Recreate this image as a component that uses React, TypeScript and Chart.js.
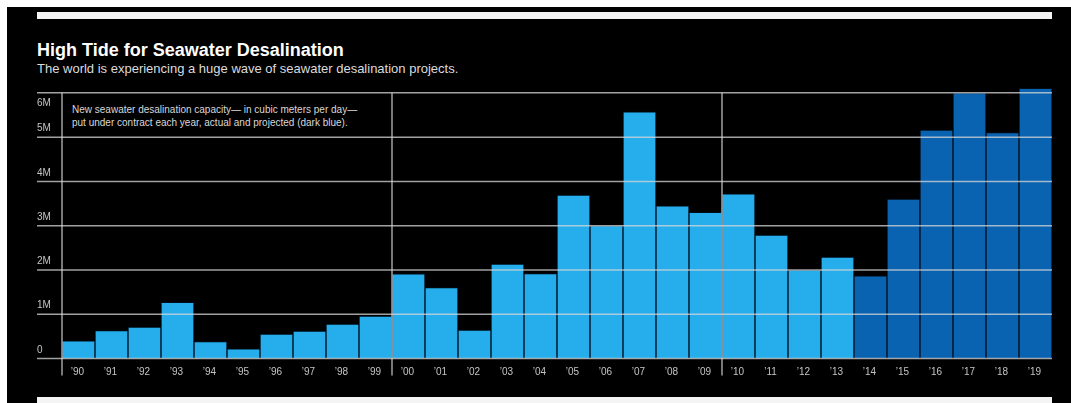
import React, { useEffect, useRef } from 'react';
import { Chart, registerables } from 'chart.js';

Chart.register(...registerables);

// ---- Data ----
const years = [
  '’90', '’91', '’92', '’93', '’94', '’95', '’96', '’97', '’98', '’99',
  '’00', '’01', '’02', '’03', '’04', '’05', '’06', '’07', '’08', '’09',
  '’10', '’11', '’12', '’13', '’14', '’15', '’16', '’17', '’18', '’19',
];
// New seawater desalination capacity, millions of m³ per day
const capacityM = [
  0.40, 0.63, 0.71, 1.27, 0.38, 0.22, 0.55, 0.62, 0.78, 0.96,
  1.91, 1.60, 0.64, 2.13, 1.92, 3.69, 3.00, 5.57, 3.45, 3.30,
  3.72, 2.79, 2.00, 2.29, 1.87, 3.60, 5.16, 6.00, 5.10, 6.10,
];
const projectedYears = ['’14', '’15', '’16', '’17', '’18', '’19'];
const yTickValues = [0, 1, 2, 3, 4, 5, 6];
const yTickLabels = ['0', '1M', '2M', '3M', '4M', '5M', '6M'];
const decadeStarts = ['’90', '’00', '’10'];

const TITLE = 'High Tide for Seawater Desalination';
const SUBTITLE = 'The world is experiencing a huge wave of seawater desalination projects.';
const NOTE_1 = 'New seawater desalination capacity— in cubic meters per day—';
const NOTE_2 = 'put under contract each year, actual and projected (dark blue).';

const ACTUAL_COLOR = '#25adec';
const PROJECTED_COLOR = '#0a63b0';
const FONT = '"Liberation Sans", Arial, Helvetica, sans-serif';

const overlayPlugin = {
  id: 'overlay',
  afterDatasetsDraw(chart: any) {
    const { ctx, chartArea, scales } = chart;
    const x = scales.x;
    const y = scales.y;
    ctx.save();
    // horizontal grid lines, drawn over the bars
    ctx.strokeStyle = 'rgba(215,215,215,0.75)';
    ctx.lineWidth = 1.5;
    yTickValues.forEach((v) => {
      const py = y.getPixelForValue(v);
      ctx.beginPath();
      ctx.moveTo(37, py);
      ctx.lineTo(chartArea.right, py);
      ctx.stroke();
    });
    // decade dividers
    const half = (x.getPixelForValue(1) - x.getPixelForValue(0)) / 2;
    const topV = yTickValues[yTickValues.length - 1];
    decadeStarts.forEach((lbl) => {
      const i = years.indexOf(lbl);
      const px = x.getPixelForValue(i) - half;
      ctx.beginPath();
      ctx.moveTo(px, y.getPixelForValue(topV));
      ctx.lineTo(px, y.getPixelForValue(0) + 17);
      ctx.stroke();
    });
    // y labels
    ctx.fillStyle = '#c4c4c4';
    ctx.font = `10px ${FONT}`;
    ctx.textBaseline = 'middle';
    ctx.textAlign = 'left';
    yTickValues.forEach((v, k) => {
      const py = y.getPixelForValue(v);
      const off = v === topV ? 10 : -8.5;
      ctx.fillText(yTickLabels[k], 37, py + off);
    });
    // x labels
    ctx.textAlign = 'center';
    years.forEach((lbl, i) => {
      ctx.fillText(lbl, x.getPixelForValue(i) - 1, y.getPixelForValue(0) + 13.5);
    });
    ctx.restore();
  },
};

export default function App() {
  const canvasRef = useRef<HTMLCanvasElement | null>(null);

  useEffect(() => {
    if (!canvasRef.current) return;
    const chart = new Chart(canvasRef.current, {
      type: 'bar',
      data: {
        labels: years,
        datasets: [
          {
            data: capacityM,
            backgroundColor: years.map((yr) =>
              projectedYears.includes(yr) ? PROJECTED_COLOR : ACTUAL_COLOR
            ),
            borderColor: 'rgba(0,15,30,0.85)',
            borderWidth: 1,
            barPercentage: 1,
            categoryPercentage: 1,
          },
        ],
      },
      options: {
        responsive: false,
        animation: false,
        devicePixelRatio: 1,
        layout: { padding: { left: 62, right: 19, top: 84, bottom: 44.5 } },
        plugins: {
          legend: { display: false },
          tooltip: { enabled: false },
          title: { display: false },
        },
        scales: {
          x: { display: false },
          y: { display: false, min: 0, max: 6.2 },
        },
      },
      plugins: [overlayPlugin],
    });
    return () => chart.destroy();
  }, []);

  return (
    <div
      style={{
        position: 'fixed',
        left: 0,
        top: 0,
        width: 1071,
        height: 403,
        background: '#ffffff',
        overflow: 'hidden',
        fontFamily: FONT,
      }}
    >
      <div style={{ position: 'absolute', left: 7, top: 7, width: 1064, height: 396, background: '#000' }} />
      <div style={{ position: 'absolute', left: 37, top: 12, width: 1015, height: 7, background: '#f4f4f4' }} />
      <div style={{ position: 'absolute', left: 37, top: 397, width: 1015, height: 6, background: '#f4f4f4' }} />
      <div
        style={{
          position: 'absolute',
          left: 37,
          top: 41,
          fontSize: 18,
          lineHeight: '18px',
          fontWeight: 700,
          color: '#ffffff',
          whiteSpace: 'nowrap',
        }}
      >
        {TITLE}
      </div>
      <div
        style={{
          position: 'absolute',
          left: 37,
          top: 62,
          fontSize: 13,
          lineHeight: '13px',
          color: '#dcdcdc',
          whiteSpace: 'nowrap',
        }}
      >
        {SUBTITLE}
      </div>
      <div
        style={{
          position: 'absolute',
          left: 72,
          top: 103,
          fontSize: 10,
          lineHeight: '13px',
          color: '#d8d8d8',
          whiteSpace: 'nowrap',
        }}
      >
        <div>{NOTE_1}</div>
        <div>{NOTE_2}</div>
      </div>
      <canvas
        ref={canvasRef}
        width={1071}
        height={403}
        style={{ position: 'absolute', left: 0, top: 0, width: 1071, height: 403 }}
      />
    </div>
  );
}
